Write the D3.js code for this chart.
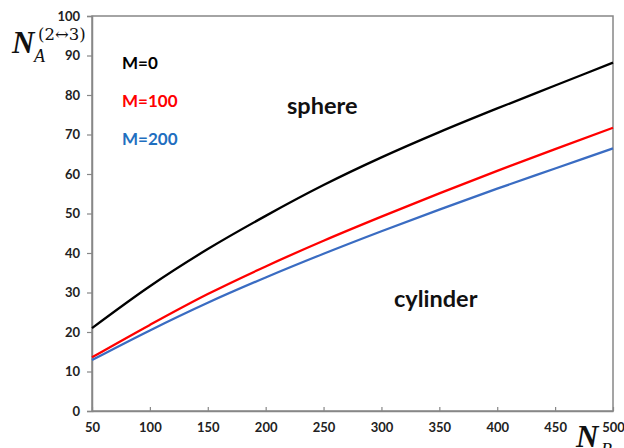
<!DOCTYPE html>
<html>
<head>
<meta charset="utf-8">
<script src="https://cdn.jsdelivr.net/npm/d3@7"></script>
<style>
  html, body { margin: 0; padding: 0; background: #fff; }
  svg { display: block; }
  .tick text { font-family: Lato, "Open Sans", sans-serif; font-weight: bold; font-size: 13px; fill: #222; }
</style>
</head>
<body>
<svg id="chart" width="624" height="448"></svg>
<script>
// Chain length of block B on the horizontal axis
const nB = [50, 100, 150, 200, 250, 300, 350, 400, 450, 500];
// Transition length N_A (sphere <-> cylinder) for each M
const m0   = [21.0, 31.6, 41.0, 49.4, 57.2, 64.2, 70.6, 76.6, 82.4, 88.2];
const m100 = [13.6, 21.8, 29.6, 36.6, 43.1, 49.2, 55.1, 60.8, 66.3, 71.7];
const m200 = [12.9, 20.4, 27.4, 33.8, 39.8, 45.5, 51.0, 56.3, 61.4, 66.5];
const seriesNames = ["M=0", "M=100", "M=200"];
const xTicks = [50, 100, 150, 200, 250, 300, 350, 400, 450, 500];
const yTicks = [0, 10, 20, 30, 40, 50, 60, 70, 80, 90, 100];

const series = [
  { name: seriesNames[0], values: m0,   line: "#000000", text: "#000000" },
  { name: seriesNames[1], values: m100, line: "#ff0000", text: "#ff0000" },
  { name: seriesNames[2], values: m200, line: "#3a6cc2", text: "#1f6fc0" }
];

const svg = d3.select("#chart");
const plotLeft = 92, plotRight = 613, plotTop = 16, plotBottom = 411;

const x = d3.scaleLinear().domain([50, 500]).range([plotLeft, plotRight]);
const y = d3.scaleLinear().domain([0, 100]).range([plotBottom, plotTop]);

const frameColor = "#878787";

// plot frame
svg.append("rect")
  .attr("x", plotLeft).attr("y", plotTop)
  .attr("width", plotRight - plotLeft).attr("height", plotBottom - plotTop)
  .attr("fill", "none").attr("stroke", frameColor).attr("stroke-width", 1.5);

// y axis: outward ticks
const yAxis = svg.append("g")
  .attr("transform", `translate(${plotLeft},0)`)
  .call(d3.axisLeft(y).tickValues(yTicks).tickSize(5).tickPadding(7).tickFormat(d3.format("d")));
yAxis.select(".domain").attr("stroke", frameColor).attr("stroke-width", 1.5);
yAxis.selectAll(".tick line").attr("stroke", frameColor).attr("stroke-width", 1.2);

// x axis: inward ticks
const xAxis = svg.append("g")
  .attr("transform", `translate(0,${plotBottom})`)
  .call(d3.axisBottom(x).tickValues(xTicks).tickSizeInner(-4).tickSizeOuter(0).tickPadding(12).tickFormat(d3.format("d")));
xAxis.select(".domain").attr("stroke", frameColor).attr("stroke-width", 1.5);
xAxis.selectAll(".tick line").attr("stroke", frameColor).attr("stroke-width", 1.2);

// curves
const line = d3.line()
  .x((d, i) => x(nB[i]))
  .y(d => y(d))
  .curve(d3.curveMonotoneX);

svg.append("g").selectAll("path")
  .data(series)
  .join("path")
  .attr("d", d => line(d.values))
  .attr("fill", "none")
  .attr("stroke", d => d.line)
  .attr("stroke-width", 2.3);

// legend labels
const sans = "Lato, 'Open Sans', sans-serif";
svg.append("g").selectAll("text")
  .data(series)
  .join("text")
  .attr("x", 122)
  .attr("y", (d, i) => 69 + i * 38)
  .attr("font-family", sans).attr("font-weight", "bold").attr("font-size", 17)
  .attr("fill", d => d.text)
  .text(d => d.name);

// region labels
svg.append("text").attr("x", 287).attr("y", 114)
  .attr("font-family", sans).attr("font-weight", "bold").attr("font-size", 23.5)
  .attr("fill", "#111").text("sphere");
svg.append("text").attr("x", 394).attr("y", 307)
  .attr("font-family", sans).attr("font-weight", "bold").attr("font-size", 23.5)
  .attr("fill", "#111").text("cylinder");

// axis titles
const mathFont = "'Liberation Serif', 'DejaVu Serif', serif";
const yTitle = svg.append("g").attr("font-family", mathFont).attr("fill", "#111");
yTitle.append("text").attr("x", 12).attr("y", 53)
  .attr("font-size", 31).attr("font-style", "italic").attr("font-weight", "bold").text("N");
yTitle.append("text").attr("x", 34).attr("y", 62)
  .attr("font-size", 18).attr("font-style", "italic").text("A");
yTitle.append("text").attr("x", 38).attr("y", 40)
  .attr("font-family", "'DejaVu Serif', serif")
  .attr("font-size", 16.5).text("(2↔3)");

const xTitle = svg.append("g").attr("font-family", mathFont).attr("fill", "#111");
xTitle.append("text").attr("x", 576).attr("y", 447)
  .attr("font-size", 31).attr("font-style", "italic").attr("font-weight", "bold").text("N");
xTitle.append("text").attr("x", 601).attr("y", 456)
  .attr("font-size", 18).attr("font-style", "italic").text("B");
</script>
</body>
</html>
